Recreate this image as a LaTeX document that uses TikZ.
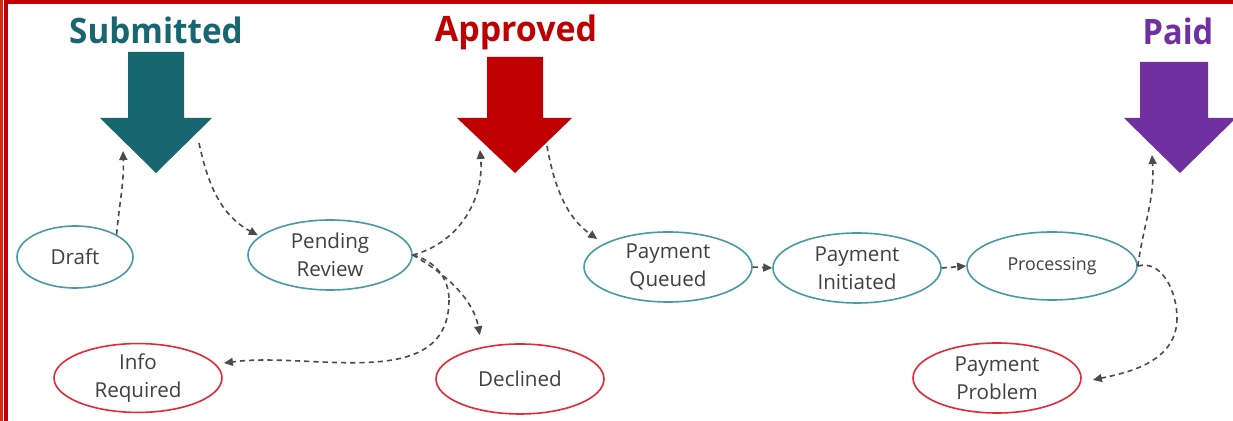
\documentclass[tikz,border=0pt]{standalone}
\usepackage{fontspec}
\setmainfont{Open Sans}
\usetikzlibrary{arrows.meta,shapes.geometric}
\definecolor{subteal}{RGB}{24,102,112}
\definecolor{apred}{RGB}{192,0,0}
\definecolor{paidpurple}{RGB}{112,48,160}
\definecolor{tealline}{RGB}{70,155,165}
\definecolor{redline}{RGB}{228,40,55}
\definecolor{labelgray}{RGB}{64,64,64}
\definecolor{conngray}{RGB}{75,75,75}
\definecolor{borderred}{RGB}{192,0,0}
\definecolor{borderorange}{RGB}{210,45,20}
\begin{document}
\begin{tikzpicture}[x=0.5pt,y=-0.5pt,
  stnode/.style={ellipse, draw, line width=0.8pt, inner sep=0pt, align=center,
    text=labelgray, font=\fontsize{10.3}{14}\selectfont,
    minimum width=84pt, minimum height=35pt},
  okst/.style={stnode, draw=tealline},
  badst/.style={stnode, draw=redline},
  conn/.style={draw=conngray, line width=0.8pt, dash pattern=on 2.6pt off 2pt,
    -{Triangle[length=4.5pt,width=4pt]}},
  headtxt/.style={font=\fontsize{17.5}{20}\selectfont\bfseries, inner sep=0pt}]
\useasboundingbox (0,0) rectangle (1233,421);
\fill[white] (0,0) rectangle (1233,421);
% frame
\fill[borderorange] (0,0) rectangle (3,421);
\fill[borderred] (4,0) rectangle (8,421);
\fill[borderred] (4,0) rectangle (1233,4);

% headings
\node[headtxt, text=subteal] (tsub) at (156,30) {\scalebox{0.95}[1]{Submitted}};
\node[headtxt, text=apred] (tapp) at (516,32) {\scalebox{0.97}[1]{Approved}};
\node[headtxt, text=paidpurple] (tpaid) at (1178,31) {\scalebox{0.93}[1]{Paid}};

% big arrows
\fill[subteal] (128,52) -- (184,52) -- (184,118) -- (212,118) -- (156,173) -- (100,118) -- (128,118) -- cycle;
\fill[apred] (487,57) -- (543,57) -- (543,118) -- (572,118) -- (515,173) -- (457,118) -- (487,118) -- cycle;
\fill[paidpurple] (1140,62) -- (1208,62) -- (1208,118) -- (1236,118) -- (1180,173) -- (1124,118) -- (1140,118) -- cycle;

\coordinate (subL) at (123,151);
\coordinate (subR) at (199,143);
\coordinate (appL) at (480,150);
\coordinate (appR) at (547,146);
\coordinate (paidL) at (1152,155);

% states
\node[okst, minimum width=58pt, minimum height=31pt] (draft) at (75,257) {Draft};
\node[okst, minimum width=82pt] (pr) at (330,255) {Pending\\Review};
\node[badst, minimum height=34pt] (info) at (138,378) {Info\\Required};
\node[badst] (decl) at (520,379) {Declined};
\node[okst] (pq) at (668,267) {Payment\\Queued};
\node[okst] (pi) at (857,268) {Payment\\Initiated};
\node[okst, minimum width=85pt, minimum height=34pt, font=\fontsize{8.9}{11}\selectfont] (proc) at (1052,266) {Processing};
\node[badst] (prob) at (997,378) {Payment\\Problem};

\coordinate (k1) at (449,300);
\coordinate (k2) at (1177,318);

% connectors
\draw[conn] (draft.north east) to[out=85,in=-88] (subL);
\draw[conn, shorten >=1pt] (subR) to[out=-78,in=152] (pr.165);
\draw[conn] (pr.east) to[out=15,in=-85] (appL);
\draw[conn, -] (pr.east) to[out=-15,in=90] (k1);
\draw[conn, shorten >=4pt] (k1) to[out=-90,in=8] (info.10);
\draw[conn, shorten >=6pt] (pr.east) to[out=-30,in=100] (decl.140);
\draw[conn, shorten >=4pt] (appR) to[out=-80,in=145] (pq.160);
\draw[conn] (pq.east) -- (pi.west);
\draw[conn] (pi.east) -- (proc.west);
\draw[conn] (proc.east) to[out=82,in=-86] (paidL);
\draw[conn, -] (proc.east) to[out=15,in=90] (k2);
\draw[conn, shorten >=6pt] (k2) to[out=-90,in=12] (prob.-3);
\end{tikzpicture}
\end{document}
